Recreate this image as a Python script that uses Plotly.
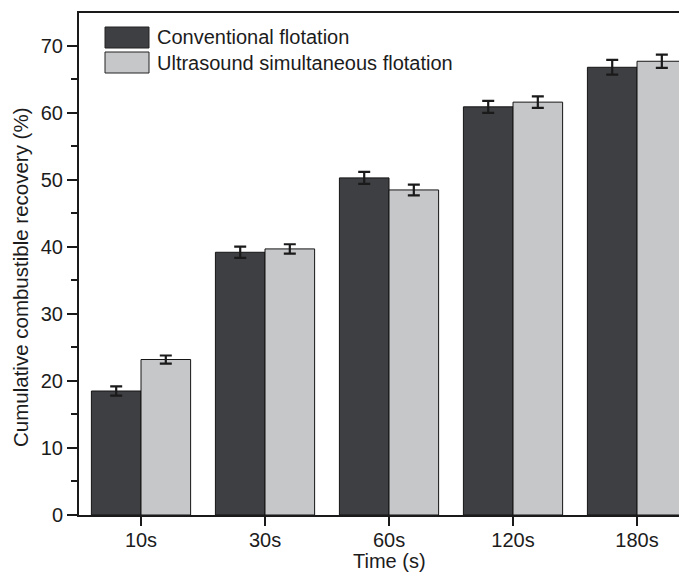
import plotly.graph_objects as go

categories = ["10s", "30s", "60s", "120s", "180s"]
conventional = [18.5, 39.2, 50.3, 60.9, 66.8]
conventional_err = [0.7, 0.85, 0.9, 0.9, 1.1]
ultrasound = [23.2, 39.7, 48.5, 61.6, 67.7]
ultrasound_err = [0.6, 0.7, 0.8, 0.85, 1.0]
series_names = ["Conventional flotation", "Ultrasound simultaneous flotation"]

DARK = "#3e3f42"
LIGHT = "#c6c7c9"
TXT = "#1c1c1c"
FONT = "Liberation Sans, Arial, sans-serif"

# page body has an 8px default margin; compensate so the screen layout matches
OFF = 8
SCR_W, SCR_H = 687, 573
W, H = SCR_W - OFF, SCR_H - OFF
# plot area in screen pixels
PL, PT, PB, PR = 79, 13, 515, 687
L, T = PL - OFF, PT - OFF
B = H - (PB - OFF)
R = W - (PR - OFF)
pw, ph = PR - PL, PB - PT

def px(x):
    return (x - PL) / pw

def py(y):
    return (PB - y) / ph

fig = go.Figure()
for name, vals, errs, col in [
    (series_names[0], conventional, conventional_err, DARK),
    (series_names[1], ultrasound, ultrasound_err, LIGHT),
]:
    fig.add_trace(go.Bar(
        x=categories, y=vals, name=name, showlegend=False,
        marker=dict(color=col, line=dict(color="#151515", width=1)),
        error_y=dict(type="data", array=errs, thickness=2.2, width=6, color="#1a1a1a"),
    ))

# custom legend (large swatches like the reference)
shapes = []
annotations = []
for i, (name, col) in enumerate(zip(series_names, [DARK, LIGHT])):
    y0 = 27 + i * 25
    shapes.append(dict(type="rect", xref="paper", yref="paper",
                       x0=px(105), x1=px(149), y0=py(y0), y1=py(y0 + 21),
                       fillcolor=col, line=dict(color="#222", width=1)))
    annotations.append(dict(text=name, xref="paper", yref="paper",
                            x=px(155), y=py(y0 + 10.5), xanchor="left", yanchor="middle",
                            showarrow=False, font=dict(size=20, color=TXT, family=FONT)))

annotations.append(dict(text="Time (s)", xref="x", yref="paper", x=2, y=0,
                        yshift=-(561 - PB), xanchor="center", yanchor="middle", showarrow=False,
                        font=dict(size=20, color=TXT, family=FONT)))
annotations.append(dict(text="Cumulative combustible recovery (%)", xref="paper", yref="paper",
                        x=0, xshift=-(PL - 20), y=py(277), xanchor="center", yanchor="middle",
                        textangle=-90, showarrow=False,
                        font=dict(size=20.5, color=TXT, family=FONT)))

fig.update_layout(
    width=W, height=H,
    margin=dict(l=L, r=R, t=T, b=B, pad=0),
    paper_bgcolor="white", plot_bgcolor="white",
    barmode="group", bargap=0.2, bargroupgap=0,
    font=dict(family=FONT, size=20, color=TXT),
    shapes=shapes, annotations=annotations,
)
fig.update_xaxes(
    range=[-0.5, 4.403], showline=True, linecolor="#1a1a1a", linewidth=2,
    mirror=True, ticks="outside", ticklen=9, tickwidth=2, tickcolor="#1a1a1a",
    showgrid=False, zeroline=False, tickfont=dict(size=20, color=TXT),
    ticklabelstandoff=-3,
)
fig.update_yaxes(
    range=[0, 74.9], showline=True, linecolor="#1a1a1a", linewidth=2,
    ticks="outside", ticklen=10, tickwidth=2, tickcolor="#1a1a1a", dtick=10,
    minor=dict(ticks="outside", ticklen=6, dtick=5, tickwidth=2, tickcolor="#1a1a1a"),
    showgrid=False, zeroline=False, tickfont=dict(size=20, color=TXT),
)

fig.write_html("out.html")
